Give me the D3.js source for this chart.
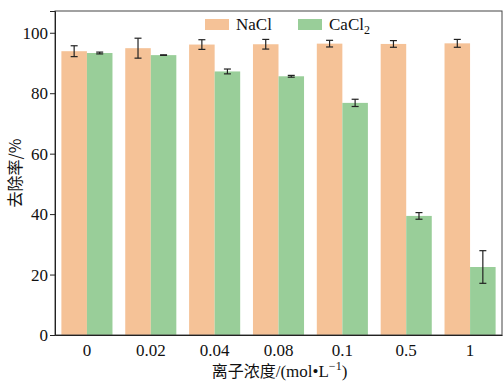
<!DOCTYPE html>
<html>
<head>
<meta charset="utf-8">
<script src="https://cdn.jsdelivr.net/npm/d3@7"></script>
<style>
  html, body { margin: 0; padding: 0; background: #fff; }
  svg { display: block; }
</style>
</head>
<body>
<svg id="chart" width="503" height="383"></svg>
<script>
// Ion concentration categories (mol/L)
const categories = ["0", "0.02", "0.04", "0.08", "0.1", "0.5", "1"];
// Removal rate (%) and error half-widths
const naclValues = [93.9, 94.9, 96.1, 96.2, 96.4, 96.3, 96.5];
const naclErrors = [1.8, 3.3, 1.6, 1.6, 1.1, 1.1, 1.3];
const cacl2Values = [93.3, 92.6, 87.2, 85.6, 76.8, 39.4, 22.5];
const cacl2Errors = [0.3, 0.1, 0.8, 0.3, 1.2, 1.1, 5.4];
const yTicks = [0, 20, 40, 60, 80, 100];

const series = [
  { key: "NaCl", values: naclValues, errors: naclErrors, color: "#F5C297" },
  { key: "CaCl2", values: cacl2Values, errors: cacl2Errors, color: "#99CE99" }
];

const svg = d3.select("#chart");
const margin = { left: 55, right: 1, top: 11, bottom: 48 };
const W = 503, H = 383;
const serif = "'Liberation Serif', 'Times New Roman', serif";
const cjk = "'Noto Sans CJK SC', sans-serif";

const x0 = d3.scaleBand().domain(categories)
  .range([margin.left, W - margin.right])
  .paddingInner(0.2).paddingOuter(0.1);
const x1 = d3.scaleBand().domain(series.map(s => s.key))
  .range([0, x0.bandwidth()]);
const y = d3.scaleLinear().domain([0, 107.2]).range([H - margin.bottom, margin.top]);

// Bars
series.forEach(s => {
  svg.append("g").selectAll("rect").data(categories).join("rect")
    .attr("x", c => x0(c) + x1(s.key))
    .attr("y", (c, i) => y(s.values[i]))
    .attr("width", x1.bandwidth())
    .attr("height", (c, i) => y(0) - y(s.values[i]))
    .attr("fill", s.color);
});

// Error bars
series.forEach(s => {
  const g = svg.append("g").attr("stroke", "#222").attr("stroke-width", 1.2);
  categories.forEach((c, i) => {
    const cx = x0(c) + x1(s.key) + x1.bandwidth() / 2;
    const hi = y(s.values[i] + s.errors[i]);
    const lo = y(s.values[i] - s.errors[i]);
    g.append("line").attr("x1", cx).attr("x2", cx).attr("y1", hi).attr("y2", lo);
    g.append("line").attr("x1", cx - 3.5).attr("x2", cx + 3.5).attr("y1", hi).attr("y2", hi);
    g.append("line").attr("x1", cx - 3.5).attr("x2", cx + 3.5).attr("y1", lo).attr("y2", lo);
  });
});

// Frame
svg.append("rect")
  .attr("x", margin.left).attr("y", margin.top)
  .attr("width", W - margin.right - margin.left)
  .attr("height", H - margin.bottom - margin.top)
  .attr("fill", "none").attr("stroke", "#444").attr("stroke-width", 1);

// Y axis
const yAxis = svg.append("g")
  .attr("transform", `translate(${margin.left},0)`)
  .call(d3.axisLeft(y).tickValues(yTicks).tickSize(5).tickPadding(2));
yAxis.select(".domain").attr("stroke", "#222");
yAxis.selectAll(".tick line").attr("stroke", "#222");
yAxis.selectAll("text").attr("font-family", serif).attr("font-size", 17).attr("fill", "#111");

// X axis
const xAxis = svg.append("g")
  .attr("transform", `translate(0,${H - margin.bottom})`)
  .call(d3.axisBottom(x0).tickSize(0).tickPadding(9));
xAxis.select(".domain").attr("stroke", "#222");
xAxis.selectAll("text").attr("font-family", serif).attr("font-size", 17).attr("fill", "#111");

// Axis titles
svg.append("text")
  .attr("transform", `translate(21,${(margin.top + H - margin.bottom) / 2}) rotate(-90)`)
  .attr("text-anchor", "middle")
  .attr("font-family", cjk).attr("font-size", 16).attr("fill", "#111")
  .text("去除率/%");

const xt = svg.append("text")
  .attr("x", (margin.left + W - margin.right) / 2 + 1).attr("y", 377)
  .attr("text-anchor", "middle")
  .attr("font-family", serif).attr("font-size", 17).attr("fill", "#111");
xt.append("tspan").attr("font-family", cjk).attr("font-size", 16).text("离子浓度");
xt.append("tspan").text("/(mol•L");
xt.append("tspan").attr("font-size", 12).attr("dy", -7).text("−1");
xt.append("tspan").attr("dy", 7).text(")");

// Legend
const legend = svg.append("g");
const legendX = [205, 298];
series.forEach((s, i) => {
  legend.append("rect").attr("x", legendX[i]).attr("y", 19)
    .attr("width", 24).attr("height", 11).attr("fill", s.color);
});
legend.append("text").attr("x", 236).attr("y", 30)
  .attr("font-family", serif).attr("font-size", 17).attr("fill", "#111").text("NaCl");
const lt = legend.append("text").attr("x", 329).attr("y", 30)
  .attr("font-family", serif).attr("font-size", 17).attr("fill", "#111");
lt.append("tspan").text("CaCl");
lt.append("tspan").attr("font-size", 12).attr("dy", 4).text("2");
</script>
</body>
</html>
